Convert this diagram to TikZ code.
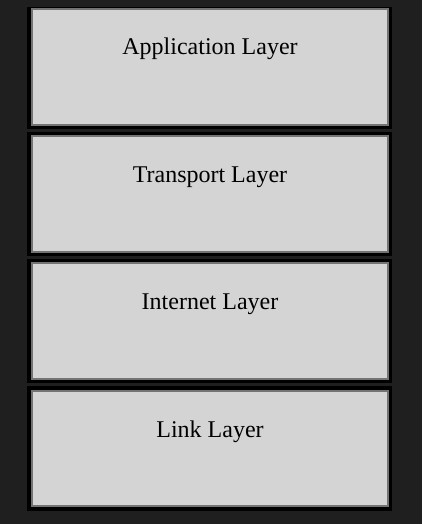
\documentclass[tikz,border=0pt]{standalone}
\usepackage{fontspec}
\setmainfont{Liberation Serif}
\begin{document}
\begin{tikzpicture}[x=0.75pt,y=-0.75pt,
  panel/.style={fill=black,draw=none},
  layerbox/.style={fill=lightgraybox,draw=gray!90!black,line width=0.9pt},
  lbl/.style={font=\fontsize{18}{20}\selectfont,anchor=base,text=black,inner sep=0pt}]
\definecolor{bgdark}{HTML}{1F1F1F}
\colorlet{lightgraybox}{black!17}
\fill[bgdark] (0,0) rectangle (422,524);
\useasboundingbox (0,0) rectangle (422,524);
% panels
\fill[panel] (27,7) rectangle (392,129);
\fill[panel] (27,132) rectangle (392,256);
\fill[panel] (27,258.5) rectangle (392,383);
\fill[panel] (27,386) rectangle (392,511);
% boxes
\draw[layerbox] (32,9) rectangle (388,125);
\draw[layerbox] (32,136) rectangle (388,252);
\draw[layerbox] (32,263) rectangle (388,379);
\draw[layerbox] (32,391) rectangle (388,506);
\node[lbl] (app) at (210,55) {Application Layer};
\node[lbl] (trans) at (210,182) {Transport Layer};
\node[lbl] (inet) at (210,309) {Internet Layer};
\node[lbl] (link) at (210,437) {Link Layer};
\end{tikzpicture}
\end{document}
